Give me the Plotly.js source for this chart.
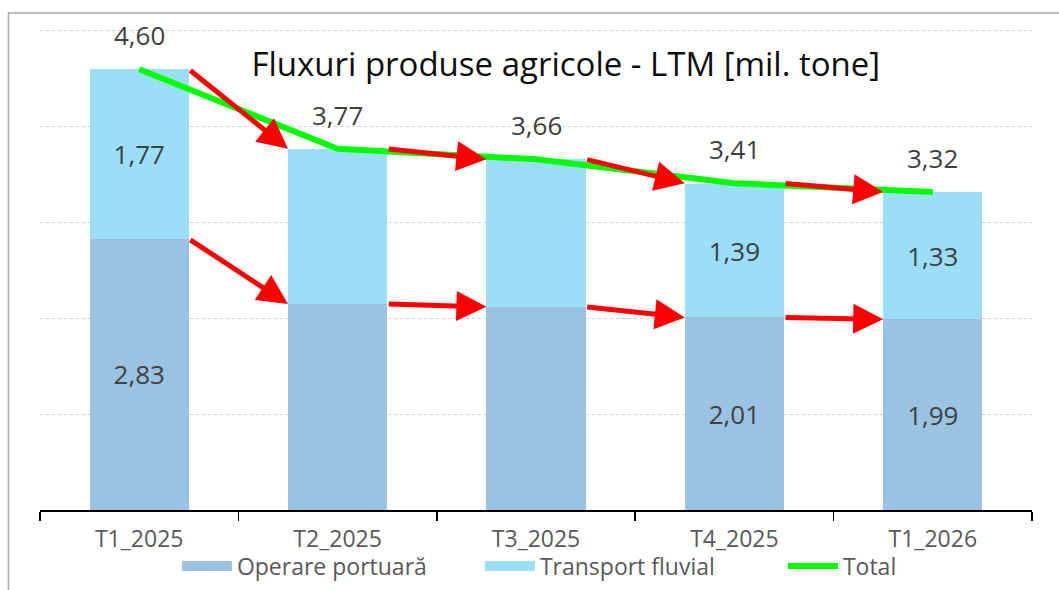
<!DOCTYPE html>
<html>
<head>
<meta charset="utf-8">
<script src="https://cdn.plot.ly/plotly-3.0.1.min.js"></script>
<style>
  html, body { margin: 0; padding: 0; background: #fff; }
  #chart { width: 1059px; height: 590px; }
</style>
</head>
<body>
<div id="chart"></div>
<script>
// ---- Data ----
const categories = ['T1_2025', 'T2_2025', 'T3_2025', 'T4_2025', 'T1_2026'];
const operarePortuara = [2.83, 2.15, 2.12, 2.01, 1.99];
const transportFluvial = [1.77, 1.62, 1.54, 1.39, 1.33];
const total = [4.60, 3.77, 3.66, 3.41, 3.32];
const showOperareLabel = [true, false, false, true, true];
const showFluvialLabel = [true, false, false, true, true];

const seriesNames = ['Operare portuară', 'Transport fluvial', 'Total'];
const titleText = 'Fluxuri produse agricole - LTM [mil. tone]';

// ---- Styles ----
const colOp = '#9AC3E3';
const colTf = '#9BDEF8';
const colTotal = '#00FF00';
const colArrow = '#FF0000';
const labelColor = '#404040';
const fmt = v => v.toFixed(2).replace('.', ',');

const traces = [
  {
    type: 'bar', x: categories, y: operarePortuara, name: seriesNames[0],
    marker: { color: colOp }, showlegend: false,
    text: operarePortuara.map((v, i) => showOperareLabel[i] ? fmt(v) : ''),
    textposition: 'inside', insidetextanchor: 'middle',
    textfont: { size: 26, color: labelColor }, hoverinfo: 'skip'
  },
  {
    type: 'bar', x: categories, y: transportFluvial, name: seriesNames[1],
    marker: { color: colTf }, showlegend: false,
    text: transportFluvial.map((v, i) => showFluvialLabel[i] ? fmt(v) : ''),
    textposition: 'inside', insidetextanchor: 'middle',
    textfont: { size: 26, color: labelColor }, hoverinfo: 'skip'
  },
  {
    type: 'scatter', mode: 'lines', x: categories, y: total, name: seriesNames[2],
    line: { color: colTotal, width: 6 }, showlegend: false, hoverinfo: 'skip'
  },
  // legend entries
  { type: 'scatter', mode: 'lines', x: [null], y: [null], name: seriesNames[0],
    line: { color: colOp, width: 14 }, showlegend: true },
  { type: 'scatter', mode: 'lines', x: [null], y: [null], name: seriesNames[1],
    line: { color: colTf, width: 14 }, showlegend: true },
  { type: 'scatter', mode: 'lines', x: [null], y: [null], name: seriesNames[2],
    line: { color: colTotal, width: 6 }, showlegend: true }
];

const annotations = [];
// total labels above the line
total.forEach((v, i) => {
  annotations.push({
    x: categories[i], y: v, xref: 'x', yref: 'y', text: fmt(v),
    showarrow: false, yshift: 34, font: { size: 26, color: labelColor }
  });
});
// red arrows from bar corner to next bar corner
const half = 0.25;
for (let i = 0; i < categories.length - 1; i++) {
  [total, operarePortuara].forEach(arr => {
    annotations.push({
      xref: 'x', yref: 'y', axref: 'x', ayref: 'y',
      x: i + 1 - half, y: arr[i + 1],
      ax: i + half, ay: arr[i],
      text: '', showarrow: true, arrowhead: 2, arrowsize: 1.2,
      arrowwidth: 5, arrowcolor: colArrow, standoff: 0, startstandoff: 0
    });
  });
}

const layout = {
  width: 1059, height: 590,
  margin: { l: 40, r: 27, t: 29, b: 80, autoexpand: false },
  paper_bgcolor: '#ffffff', plot_bgcolor: '#ffffff',
  font: { family: 'Open Sans, Noto Sans, sans-serif', color: '#595959' },
  title: {
    text: titleText, font: { size: 33, color: '#0D0D0D' },
    xref: 'paper', x: 0.53, xanchor: 'center',
    yref: 'container', y: 0.8915, yanchor: 'middle'
  },
  barmode: 'stack', bargap: 0.5,
  xaxis: {
    type: 'category', showline: true, linecolor: '#000', linewidth: 1.5,
    ticks: 'outside', tickson: 'boundaries', ticklen: 9, tickwidth: 1.5, tickcolor: '#000',
    tickfont: { size: 23, color: '#595959' }, showgrid: false, ticklabelstandoff: 8,
    range: [-0.5, 4.5], fixedrange: true, automargin: false
  },
  yaxis: {
    range: [0, 5.02], dtick: 1, showgrid: true, gridcolor: '#CFCFCF', griddash: 'dot',
    gridwidth: 1, showticklabels: false, zeroline: false, showline: false, ticks: '',
    automargin: false
  },
  legend: {
    orientation: 'h', xref: 'paper', x: 0.138, xanchor: 'left',
    yref: 'container', y: 0.0407, yanchor: 'middle',
    font: { size: 23, color: '#595959' }, itemwidth: 50, traceorder: 'normal',
    entrywidth: 238, entrywidthmode: 'pixels',
    bgcolor: 'rgba(0,0,0,0)'
  },
  annotations: annotations,
  shapes: [{
    type: 'rect', xref: 'paper', yref: 'paper',
    x0: -0.0318, x1: 1.2, y0: -0.5, y1: 1.0333,
    line: { color: '#A6A6A6', width: 1.5 }, fillcolor: 'rgba(0,0,0,0)', layer: 'below'
  }],
  showlegend: true
};

Plotly.newPlot('chart', traces, layout, { staticPlot: true, displayModeBar: false });
</script>
</body>
</html>
